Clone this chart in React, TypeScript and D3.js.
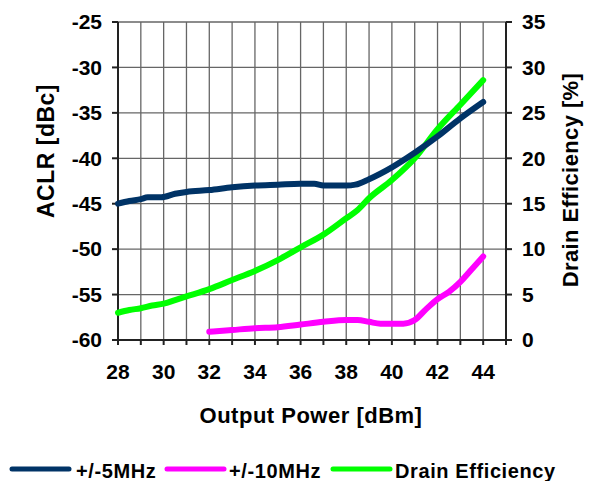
import React, { useEffect, useRef } from "react";
import * as d3 from "d3";

const margin = { top: 22, right: 86, bottom: 141, left: 118 };
const width = 592;
const height = 481;

// +/-5MHz ACLR [dBc]
const power5 = [28, 28.5, 29, 29.3, 29.9, 30.5, 31, 32, 33, 34, 35, 36, 36.6, 37, 38, 38.4, 39, 40, 41, 42, 43, 44];
const aclr5 = [-45.0, -44.7, -44.5, -44.3, -44.3, -43.9, -43.7, -43.5, -43.2, -43.0, -42.9, -42.8, -42.8, -43.0, -43.0, -42.9, -42.3, -41.0, -39.4, -37.6, -35.6, -33.8];

// +/-10MHz ACLR [dBc]
const power10 = [32, 33, 34, 35, 36, 37, 38, 38.5, 39, 39.5, 40, 40.5, 41, 41.5, 42, 42.5, 43, 43.5, 44];
const aclr10 = [-59.1, -58.9, -58.7, -58.6, -58.3, -58.0, -57.8, -57.8, -58.0, -58.2, -58.2, -58.2, -57.8, -56.6, -55.5, -54.7, -53.6, -52.2, -50.8];

// Drain efficiency [%]
const powerDE = [28, 28.5, 29, 29.5, 30, 30.5, 31, 32, 33, 34, 35, 36, 37, 38, 38.5, 39, 40, 41, 42, 43, 44];
const drainEff = [3.0, 3.3, 3.5, 3.8, 4.0, 4.4, 4.8, 5.6, 6.6, 7.6, 8.8, 10.2, 11.6, 13.4, 14.3, 15.6, 17.6, 20.0, 23.2, 25.9, 28.6];

const xTicks = [28, 30, 32, 34, 36, 38, 40, 42, 44];
const xGrid = d3.range(28, 46, 1);
const leftTicks = [-25, -30, -35, -40, -45, -50, -55, -60];
const rightTicks = [35, 30, 25, 20, 15, 10, 5, 0];

const legendItems = [
  { label: "+/-5MHz", color: "#003366" },
  { label: "+/-10MHz", color: "#ff00ff" },
  { label: "Drain Efficiency", color: "#00ff00" },
];

export default function App() {
  const ref = useRef<SVGSVGElement>(null);

  useEffect(() => {
    const svg = d3.select(ref.current);
    svg.selectAll("*").remove();

    const x0 = margin.left;
    const x1 = width - margin.right;
    const y0 = margin.top;
    const y1 = height - margin.bottom;

    const x = d3.scaleLinear().domain([28, 45]).range([x0, x1]);
    const yL = d3.scaleLinear().domain([-60, -25]).range([y1, y0]);
    const yR = d3.scaleLinear().domain([0, 35]).range([y1, y0]);

    const font = "'Liberation Sans', Arial, sans-serif";

    // grid
    const grid = svg.append("g").attr("stroke", "#666").attr("stroke-width", 1.3);
    grid
      .selectAll("line.v")
      .data(xGrid.slice(1))
      .join("line")
      .attr("x1", (d) => x(d))
      .attr("x2", (d) => x(d))
      .attr("y1", y0)
      .attr("y2", y1);
    grid
      .selectAll("line.h")
      .data(leftTicks.slice(0, -1))
      .join("line")
      .attr("x1", x0)
      .attr("x2", x1)
      .attr("y1", (d) => yL(d))
      .attr("y2", (d) => yL(d));

    // axes
    const axis = svg.append("g").attr("stroke", "#222").attr("stroke-width", 2);
    axis.append("line").attr("x1", x0).attr("x2", x0).attr("y1", y0).attr("y2", y1 + 1);
    axis.append("line").attr("x1", x0 - 1).attr("x2", x1 + 1).attr("y1", y1).attr("y2", y1);
    axis.append("line").attr("x1", x1).attr("x2", x1).attr("y1", y0).attr("y2", y1 + 1);
    axis
      .selectAll("line.lt")
      .data(leftTicks)
      .join("line")
      .attr("x1", x0 - 6)
      .attr("x2", x0)
      .attr("y1", (d) => yL(d))
      .attr("y2", (d) => yL(d));
    axis
      .selectAll("line.rt")
      .data(rightTicks)
      .join("line")
      .attr("x1", x1)
      .attr("x2", x1 + 6)
      .attr("y1", (d) => yR(d))
      .attr("y2", (d) => yR(d));
    axis
      .selectAll("line.bt")
      .data(xGrid)
      .join("line")
      .attr("x1", (d) => x(d))
      .attr("x2", (d) => x(d))
      .attr("y1", y1)
      .attr("y2", y1 + 5);

    // tick labels
    const txt = svg
      .append("g")
      .attr("font-family", font)
      .attr("font-weight", "bold")
      .attr("font-size", 21)
      .attr("fill", "#000");
    txt
      .selectAll("text.l")
      .data(leftTicks)
      .join("text")
      .attr("x", 102)
      .attr("y", (d) => yL(d))
      .attr("dy", "0.35em")
      .attr("text-anchor", "end")
      .text((d) => d);
    txt
      .selectAll("text.r")
      .data(rightTicks)
      .join("text")
      .attr("x", 522)
      .attr("y", (d) => yR(d))
      .attr("dy", "0.35em")
      .attr("text-anchor", "start")
      .text((d) => d);
    txt
      .selectAll("text.b")
      .data(xTicks)
      .join("text")
      .attr("x", (d) => x(d))
      .attr("y", 379)
      .attr("text-anchor", "middle")
      .text((d) => d);

    // axis titles
    txt
      .append("text")
      .attr("transform", `translate(46,151) rotate(-90)`)
      .attr("text-anchor", "middle")
      .attr("dy", "0.35em")
      .attr("font-size", 23)
      .attr("letter-spacing", 0.5)
      .text("ACLR [dBc]");
    txt
      .append("text")
      .attr("transform", `translate(570,180) rotate(-90)`)
      .attr("text-anchor", "middle")
      .attr("dy", "0.35em")
      .attr("font-size", 22)
      .attr("letter-spacing", 0.4)
      .text("Drain Efficiency [%]");
    txt
      .append("text")
      .attr("x", 311)
      .attr("y", 423)
      .attr("text-anchor", "middle")
      .attr("font-size", 22)
      .attr("letter-spacing", 0.5)
      .text("Output Power [dBm]");

    // series
    const lineL = d3
      .line<[number, number]>()
      .x((d) => x(d[0]))
      .y((d) => yL(d[1]))
      .curve(d3.curveMonotoneX);
    const lineR = d3
      .line<[number, number]>()
      .x((d) => x(d[0]))
      .y((d) => yR(d[1]))
      .curve(d3.curveMonotoneX);

    const series = svg
      .append("g")
      .attr("fill", "none")
      .attr("stroke-width", 6)
      .attr("stroke-linecap", "round")
      .attr("stroke-linejoin", "round");
    series
      .append("path")
      .attr("stroke", "#00ff00")
      .attr("d", lineR(d3.zip(powerDE, drainEff) as [number, number][]));
    series
      .append("path")
      .attr("stroke", "#ff00ff")
      .attr("d", lineL(d3.zip(power10, aclr10) as [number, number][]));
    series
      .append("path")
      .attr("stroke", "#003366")
      .attr("d", lineL(d3.zip(power5, aclr5) as [number, number][]));

    // legend
    const legendX = [12, 167, 333];
    const legendTextX = [76, 229, 395];
    const lg = svg.append("g");
    legendItems.forEach((item, i) => {
      lg.append("line")
        .attr("x1", legendX[i])
        .attr("x2", legendX[i] + 57)
        .attr("y1", 469)
        .attr("y2", 469)
        .attr("stroke", item.color)
        .attr("stroke-width", 5)
        .attr("stroke-linecap", "round");
      lg.append("text")
        .attr("x", legendTextX[i])
        .attr("y", 477.5)
        .attr("font-family", font)
        .attr("font-weight", "bold")
        .attr("font-size", 20)
        .attr("letter-spacing", 0.6)
        .text(item.label);
    });
  }, []);

  return (
    <svg
      ref={ref}
      width={width}
      height={height}
      style={{ position: "absolute", left: 0, top: 0, background: "#fff" }}
    />
  );
}
